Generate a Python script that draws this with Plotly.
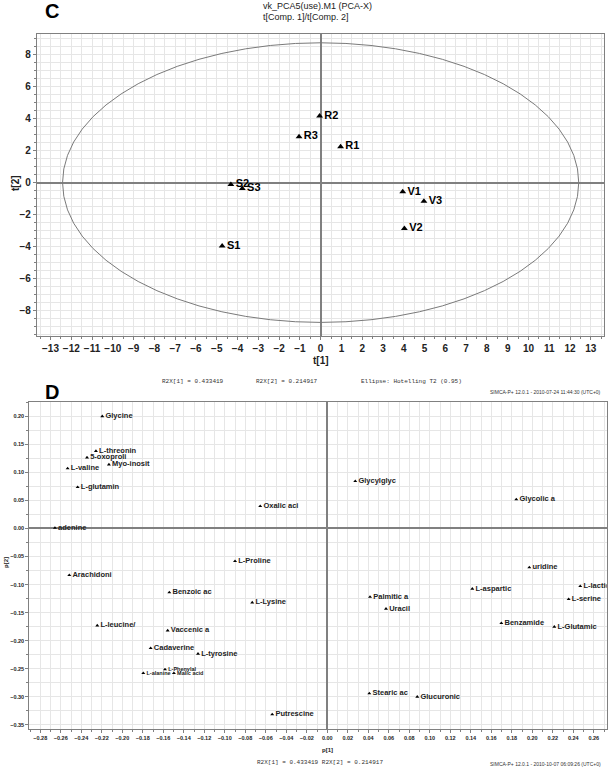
import plotly.graph_objects as go

# ---------------- Panel C: scores t[1] / t[2] ----------------
c_labels = ["R2", "R3", "R1", "V1", "V3", "V2", "S2", "S3", "S1"]
c_t1 = [-0.05, -1.04, 0.96, 3.95, 4.97, 4.03, -4.32, -3.77, -4.74]
c_t2 = [4.17, 2.87, 2.25, -0.58, -1.16, -2.87, -0.12, -0.37, -3.96]
ellipse_a = 12.42   # Hotelling T2 (0.95) semi-axis along t[1]
ellipse_b = 8.75    # semi-axis along t[2]

# ---------------- Panel D: loadings p[1] / p[2] ----------------
d_labels = ["Glycine", "L-threonin", "5-oxoproli", "Myo-inosit", "L-valine",
            "L-glutamin", "Oxalic aci", "adenine", "Glycylglyc", "Glycolic a",
            "L-Proline", "Arachidoni", "Benzoic ac", "L-Lysine", "L-leucine/",
            "Vaccenic a", "Cadaverine", "L-tyrosine", "L-Phenylal", "L-alanine",
            "Malic acid", "Putrescine", "uridine", "L-lactic", "L-aspartic",
            "Palmitic a", "L-serine", "Uracil", "Benzamide", "L-Glutamic",
            "Stearic ac", "Glucuronic"]
d_p1 = [-0.2195, -0.2257, -0.2344, -0.213, -0.2533,
        -0.2435, -0.0654, -0.2657, 0.0273, 0.1844,
        -0.090, -0.2517, -0.1541, -0.0732, -0.2244,
        -0.1557, -0.1723, -0.1261, -0.1583, -0.1795,
        -0.1496, -0.0537, 0.1971, 0.2468, 0.1415,
        0.0417, 0.2355, 0.0573, 0.1698, 0.2215,
        0.041, 0.0878]
d_p2 = [0.200, 0.138, 0.1265, 0.114, 0.107,
        0.0736, 0.0397, 0.001, 0.0843, 0.0517,
        -0.0583, -0.0832, -0.114, -0.132, -0.173,
        -0.182, -0.2134, -0.2235, -0.2513, -0.258,
        -0.258, -0.3316, -0.0695, -0.1029, -0.1076,
        -0.122, -0.126, -0.1433, -0.1688, -0.1754,
        -0.294, -0.300]
d_small = {"L-Phenylal", "L-alanine", "Malic acid"}

W, H = 609, 773
FONT = "Liberation Sans, Arial, sans-serif"
MONO = "Liberation Mono, Courier New, monospace"
GRID = "#e6e6e6"
AXC = "#808080"

def px(x):
    return x / W

def py(y):
    return 1 - y / H

fig = go.Figure()

fig.add_trace(go.Scatter(
    x=c_t1, y=c_t2, text=c_labels, mode="markers+text",
    textposition="middle right",
    marker=dict(symbol="triangle-up", size=6, color="black"),
    textfont=dict(family=FONT, size=11, color="black", weight="bold"),
    xaxis="x", yaxis="y", showlegend=False, cliponaxis=False))

fig.add_trace(go.Scatter(
    x=d_p1, y=d_p2, text=d_labels, mode="markers+text",
    textposition="middle right",
    marker=dict(symbol="triangle-up", size=3.5, color="black"),
    textfont=dict(family=FONT,
                  size=[5.5 if l in d_small else 7.5 for l in d_labels],
                  color="#222222", weight="bold"),
    xaxis="x2", yaxis="y2", showlegend=False, cliponaxis=True))

fig.add_shape(type="circle", xref="x", yref="y",
              x0=-ellipse_a, x1=ellipse_a, y0=-ellipse_b, y1=ellipse_b,
              line=dict(color="#7a7a7a", width=1), layer="above")

common = dict(showline=True, mirror=True, linecolor=AXC, linewidth=1.2,
              zeroline=True, zerolinecolor=AXC, zerolinewidth=1.5,
              gridcolor=GRID, gridwidth=1, ticks="outside", tickcolor=AXC,
              ticklen=3, layer="below traces")

fig.update_layout(
    width=W, height=H, margin=dict(l=0, r=0, t=0, b=0),
    paper_bgcolor="white", plot_bgcolor="white",
    xaxis=dict(domain=[px(37), px(604.3)], range=[-13.65, 13.65],
               dtick=1, tick0=0, anchor="y",
               tickfont=dict(family=FONT, size=10, color="#222", weight="bold"),
               minor=dict(dtick=0.5, showgrid=True, gridcolor=GRID,
                          ticks="outside", ticklen=2, tickcolor=AXC),
               **common),
    yaxis=dict(domain=[py(336), py(34)], range=[-9.6, 9.3],
               dtick=2, tick0=0, anchor="x",
               tickfont=dict(family=FONT, size=10, color="#222", weight="bold"),
               minor=dict(dtick=0.5, showgrid=True, gridcolor=GRID,
                          ticks="outside", ticklen=2, tickcolor=AXC),
               **common),
    xaxis2=dict(domain=[px(29.3), px(606.7)], range=[-0.2907, 0.2726],
                dtick=0.02, tick0=0, tickformat=".2f", anchor="y2",
                tickfont=dict(family=FONT, size=5.5, color="#222", weight="bold"),
                minor=dict(dtick=0.01, showgrid=True, gridcolor=GRID,
                           ticks="outside", ticklen=2, tickcolor=AXC),
                **common),
    yaxis2=dict(domain=[py(729.3), py(401.7)], range=[-0.358, 0.226],
                dtick=0.05, tick0=0, tickformat=".2f", anchor="x2",
                tickfont=dict(family=FONT, size=5.5, color="#222", weight="bold"),
                minor=dict(dtick=0.025, showgrid=True, gridcolor=GRID,
                           ticks="outside", ticklen=2, tickcolor=AXC),
                **common),
)

def ann(text, x, y, size, family=FONT, bold=False, xanchor="center",
        yanchor="middle", textangle=0, color="black"):
    fig.add_annotation(text=text, x=px(x), y=py(y), xref="paper", yref="paper",
                       showarrow=False, xanchor=xanchor, yanchor=yanchor,
                       textangle=textangle,
                       font=dict(family=family, size=size, color=color,
                                 weight="bold" if bold else "normal"))

# Panel C texts
ann("C", 52, 11, 20, bold=True)
ann("vk_PCA5(use).M1 (PCA-X)", 261, 6, 9, xanchor="left", color="#222")
ann("t[Comp. 1]/t[Comp. 2]", 261, 17, 9, xanchor="left", color="#222")
ann("t[2]", 15, 183, 10, bold=True, textangle=-90, color="#222")
ann("t[1]", 321, 360, 10, bold=True, color="#222")
ann("R2X[1] = 0.433419", 160, 381, 6, family=MONO, xanchor="left", color="#333")
ann("R2X[2] = 0.214917", 254, 381, 6, family=MONO, xanchor="left", color="#333")
ann("Ellipse: Hotelling T2 (0.95)", 359, 381, 6, family=MONO, xanchor="left", color="#333")
ann("SIMCA-P+ 12.0.1 - 2010-07-24 11:44:30 (UTC+0)", 603, 392, 5, xanchor="right", color="#333")

# Panel D texts
ann("D", 52, 392, 20, bold=True)
ann("p[2]", 6, 563, 6, bold=True, textangle=-90, color="#222")
ann("p[1]", 327, 750, 6, bold=True, color="#222")
ann("R2X[1] = 0.433419 R2X[2] = 0.214917", 320, 762, 6, family=MONO, color="#333")
ann("SIMCA-P+ 12.0.1 - 2010-10-07 06:09:26 (UTC+0)", 603, 764, 5, xanchor="right", color="#333")

fig.write_html("out.html",
               config={"displayModeBar": False},
               post_script="document.body.style.margin='0';"
                           "document.body.style.overflow='hidden';")
